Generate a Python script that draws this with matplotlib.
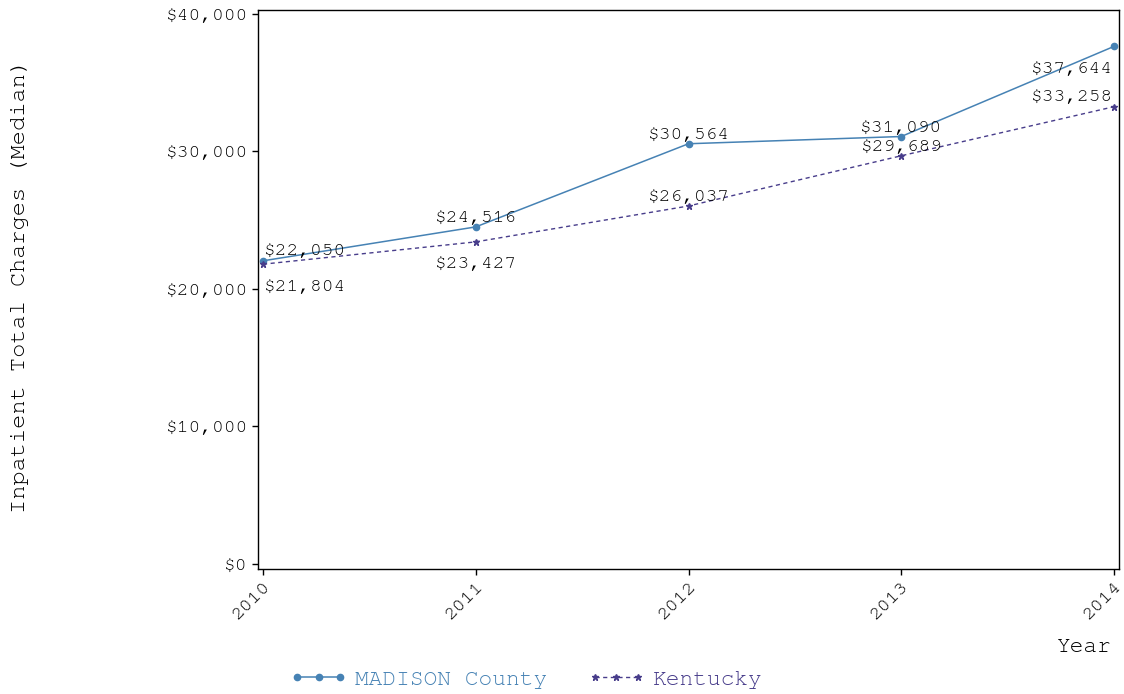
import matplotlib
matplotlib.use("Agg")
import matplotlib.pyplot as plt
from matplotlib.ticker import FuncFormatter

plt.rc("font", family=["FreeMono", "Liberation Mono", "DejaVu Sans Mono"])

years = [2010, 2011, 2012, 2013, 2014]
madison = [22050, 24516, 30564, 31090, 37644]
kentucky = [21804, 23427, 26037, 29689, 33258]
y_ticks = [0, 10000, 20000, 30000, 40000]

# label placement (pixel offsets, alignment) for each point
madison_lbl = [((1, 10), "left"), ((0, 9), "center"), ((0, 9), "center"),
               ((0, 9), "center"), ((-1, -22), "right")]
kentucky_lbl = [((1, -22), "left"), ((0, -22), "center"), ((0, 9), "center"),
                ((0, 9), "center"), ((-1, 10), "right")]

c_mad = "#4682b4"
c_ky = "#483d8b"

W, H = 1124, 694
fig = plt.figure(figsize=(W / 100, H / 100), dpi=100)
ax = fig.add_axes([258 / W, 1 - 569 / H, (1119 - 258) / W, (569 - 10) / H])

ax.plot(years, madison, color=c_mad, lw=1.1, marker="o", ms=4.5,
        label="MADISON County")
ax.plot(years, kentucky, color=c_ky, lw=1.0, ls=(0, (3, 2.5)), marker="*",
        ms=4.5, label="Kentucky")

money = lambda v: f"${v:,.0f}"
for series, lbls in ((madison, madison_lbl), (kentucky, kentucky_lbl)):
    for x, v, (off, ha) in zip(years, series, lbls):
        ax.annotate(money(v), (x, v), xytext=off, textcoords="offset pixels",
                    ha=ha, va="center", fontsize=14, color="black")

ax.set_xlim(2010 - 0.0235, 2014 + 0.0235)
ax.set_ylim(-364, 40291)
ax.set_xticks(years)
ax.set_yticks(y_ticks)
ax.yaxis.set_major_formatter(FuncFormatter(lambda v, p: money(v)))
ax.tick_params(labelsize=14, length=4, width=1, colors="black")
for lab in ax.get_xticklabels():
    lab.set_rotation(45)
    lab.set_ha("right")
    lab.set_va("top")
    lab.set_rotation_mode("anchor")
for s in ax.spines.values():
    s.set_linewidth(1)

fig.text(20 / W, 1 - 286 / H, "Inpatient Total Charges (Median)",
         rotation=90, ha="center", va="center", fontsize=17, color="black")
fig.text(1112 / W, 1 - 647 / H, "Year", ha="right", va="center",
         fontsize=16.5, color="black")

leg = fig.legend(loc="center left", bbox_to_anchor=(290 / W, 1 - 679 / H),
                 ncol=2, frameon=False, fontsize=16.5, numpoints=3,
                 handlelength=2.5, handletextpad=0.35, columnspacing=1.75,
                 borderaxespad=0, borderpad=0)
for txt, c in zip(leg.get_texts(), [c_mad, c_ky]):
    txt.set_color(c)

fig.savefig("out.png", dpi=100)
